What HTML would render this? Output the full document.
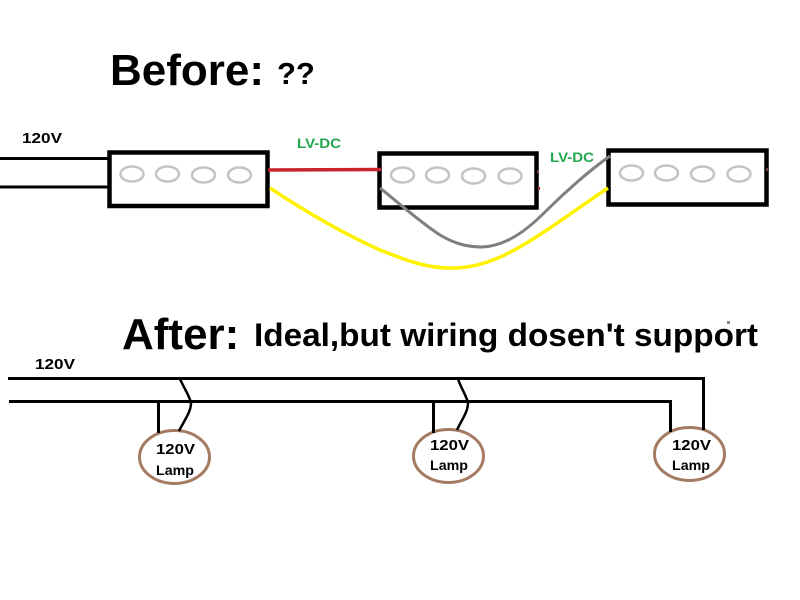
<!DOCTYPE html>
<html>
<head>
<meta charset="utf-8">
<style>
html,body{margin:0;padding:0;background:#fff;width:800px;height:600px;overflow:hidden}
svg{display:block}
text{font-family:"Liberation Sans",sans-serif;font-weight:bold;fill:#000}
</style>
</head>
<body>
<svg width="800" height="600" viewBox="0 0 800 600" xmlns="http://www.w3.org/2000/svg">
<rect width="800" height="600" fill="#fff"/>

<!-- Titles -->
<text x="110" y="85" font-size="44">Before:</text>
<text x="277" y="84" font-size="31">??</text>
<text x="122" y="349" font-size="44">After:</text>
<text x="254" y="346" font-size="32" textLength="504" lengthAdjust="spacingAndGlyphs">Ideal,but wiring dosen't support</text>
<rect x="727" y="321" width="3" height="3" fill="#8a8a8a"/>

<!-- 120V input -->
<text x="22" y="143" font-size="15" textLength="40" lengthAdjust="spacingAndGlyphs">120V</text>
<path d="M0 158.500H109M0 187H109" stroke="#000" stroke-width="3" fill="none"/>

<!-- Boxes -->
<rect x="109.500" y="152.500" width="158" height="53.500" fill="#fff" stroke="#000" stroke-width="4.500"/>
<rect x="379.500" y="153.500" width="157" height="54" fill="#fff" stroke="#000" stroke-width="4.500"/>
<rect x="608.500" y="150.500" width="158" height="54" fill="#fff" stroke="#000" stroke-width="4.500"/>
<rect x="537" y="170" width="2" height="3" fill="#7a3a3a"/>
<rect x="538" y="187" width="2" height="3" fill="#a03030"/>
<rect x="766" y="168" width="2" height="3" fill="#7a3a3a"/>

<!-- LEDs -->
<g fill="none" stroke="#c4c4c4" stroke-width="2.500">
<ellipse cx="132" cy="174" rx="11.500" ry="7.500"/>
<ellipse cx="167.500" cy="174" rx="11.500" ry="7.500"/>
<ellipse cx="203.500" cy="175" rx="11.500" ry="7.500"/>
<ellipse cx="239.500" cy="175" rx="11.500" ry="7.500"/>
<ellipse cx="402.500" cy="175" rx="11.500" ry="7.500"/>
<ellipse cx="437.500" cy="175" rx="11.500" ry="7.500"/>
<ellipse cx="473.500" cy="176" rx="11.500" ry="7.500"/>
<ellipse cx="510" cy="176" rx="11.500" ry="7.500"/>
<ellipse cx="631.500" cy="173" rx="11.500" ry="7.500"/>
<ellipse cx="666.500" cy="173" rx="11.500" ry="7.500"/>
<ellipse cx="702.500" cy="174" rx="11.500" ry="7.500"/>
<ellipse cx="739" cy="174" rx="11.500" ry="7.500"/>
</g>

<!-- DC wires -->
<path d="M268 170L381 169.500" stroke="#c9242b" stroke-width="3.500" fill="none"/>
<path d="M270 188C300 208 340 232 380 250C410 262 430 269 455 268C490 267 520 248 550 228C572 213 590 200 608 188" stroke="#fff200" stroke-width="3.500" fill="none"/>
<path d="M380 188C400 204 420 222 440 235C455 244 468 247 482 247C505 246 525 232 545 212C565 192 590 170 610 156" stroke="#7f7f7f" stroke-width="3" fill="none"/>

<text x="297" y="148" font-size="13.500" textLength="44" lengthAdjust="spacingAndGlyphs" style="fill:#22a750">LV-DC</text>
<text x="550" y="162" font-size="13.500" textLength="44" lengthAdjust="spacingAndGlyphs" style="fill:#22a750">LV-DC</text>

<!-- After section -->
<text x="35" y="369" font-size="15" textLength="40" lengthAdjust="spacingAndGlyphs">120V</text>
<path d="M8 378.500H705M9 401.500H672" stroke="#000" stroke-width="3" fill="none"/>

<!-- Lamps -->
<g fill="#fff" stroke="#a47b62" stroke-width="3">
<ellipse cx="174.500" cy="457" rx="35" ry="26.500"/>
<ellipse cx="448.500" cy="456" rx="35" ry="26.500"/>
<ellipse cx="689.500" cy="454" rx="35" ry="26.500"/>
</g>

<!-- Lamp feeds -->
<g stroke="#000" fill="none">
<path d="M158.500 402V433" stroke-width="3"/>
<path d="M180 379C184 388 190 397 191 403C191 412 184 421 179 431" stroke-width="2.500"/>
<path d="M433.500 402V433" stroke-width="3"/>
<path d="M458 379C461 388 467 397 468 403C468 412 461 421 457 430" stroke-width="2.500"/>
<path d="M670.500 400V432" stroke-width="3"/>
<path d="M703.500 378V430" stroke-width="3"/>
</g>

<!-- Lamp labels -->
<text x="156" y="454" font-size="15" textLength="39" lengthAdjust="spacingAndGlyphs">120V</text>
<text x="156" y="475" font-size="14" textLength="38" lengthAdjust="spacingAndGlyphs">Lamp</text>
<text x="430" y="450" font-size="15" textLength="39" lengthAdjust="spacingAndGlyphs">120V</text>
<text x="430" y="470" font-size="14" textLength="38" lengthAdjust="spacingAndGlyphs">Lamp</text>
<text x="672" y="450" font-size="15" textLength="39" lengthAdjust="spacingAndGlyphs">120V</text>
<text x="672" y="470" font-size="14" textLength="38" lengthAdjust="spacingAndGlyphs">Lamp</text>
</svg>
</body>
</html>
